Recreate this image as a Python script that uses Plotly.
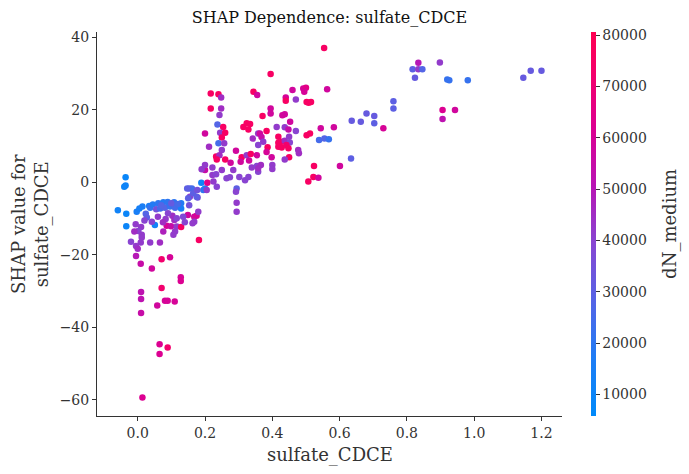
import plotly.graph_objects as go

# sulfate_CDCE feature value
x_vals = [
    -0.036, -0.040, -0.036, -0.059, -0.034, -0.034, -0.006, -0.003, 0.005, 0.014,
    0.024, 0.027, 0.034, 0.037, 0.045, 0.055, 0.061, 0.067, 0.076, 0.081,
    0.089, 0.096, 0.108, 0.111, 0.129, 0.129, 0.120, 0.100, 0.070, 0.051,
    0.010, 0.002, -0.010, 0.012, 0.012, -0.020, 0.009, 0.042, 0.037, 0.066,
    0.076, 0.086, 0.083, 0.103, 0.109, 0.099, 0.116, 0.116, 0.111, 0.106,
    0.129, 0.149, 0.155, 0.168, 0.175, 0.168, 0.163, 0.153, 0.161, 0.165,
    0.178, 0.182, 0.195, 0.200, 0.020, 0.060, 0.075, 0.090, 0.135, 0.140,
    0.009, 0.042, 0.071, 0.096, 0.128, -0.005, 0.000, -0.005, 0.128, 0.071,
    0.010, 0.010, 0.058, 0.081, 0.089, 0.110, 0.010, 0.065, 0.089, 0.065,
    0.014,
    0.217, 0.240, 0.248, 0.217, 0.248, 0.243, 0.344, 0.355, 0.237, 0.254,
    0.245, 0.260, 0.250, 0.240, 0.257, 0.200, 0.212, 0.250, 0.233, 0.243,
    0.235, 0.260, 0.276, 0.292, 0.309, 0.306, 0.324, 0.331, 0.336, 0.314,
    0.324, 0.334, 0.329, 0.342, 0.358, 0.200, 0.190, 0.222, 0.222, 0.233,
    0.250, 0.264, 0.274, 0.284, 0.302, 0.319, 0.329, 0.339, 0.354, 0.358,
    0.354, 0.294, 0.292, 0.294, 0.189, 0.200, 0.207, 0.225, 0.235, 0.147,
    0.150, 0.175, 0.153, 0.177, 0.205, 0.294, 0.507, 0.180,
    0.395, 0.460, 0.492, 0.500, 0.495, 0.502, 0.515, 0.508, 0.563, 0.470,
    0.440, 0.440, 0.395, 0.395, 0.371, 0.430, 0.437, 0.453, 0.413, 0.437,
    0.448, 0.470, 0.383, 0.363, 0.368, 0.373, 0.418, 0.418, 0.428, 0.437,
    0.450, 0.452, 0.418, 0.428, 0.442, 0.448, 0.358, 0.386, 0.383, 0.502,
    0.512, 0.544, 0.583, 0.539, 0.555, 0.568, 0.477, 0.479, 0.450, 0.437,
    0.398, 0.400, 0.400, 0.366, 0.358, 0.524, 0.522, 0.537,
    0.554, 0.834, 0.817, 0.834, 0.846, 0.824, 0.898, 0.760, 0.760, 0.680,
    0.703, 0.703, 0.636, 0.663, 0.730, 0.634, 0.601, 0.920, 0.926, 0.981,
    1.146, 1.168, 1.200, 0.906, 0.943, 0.906,
]

# SHAP value for sulfate_CDCE
shap_vals = [
    1.4, -1.2, -0.9, -7.7, -8.7, -12.1, -11.6, -8.1, -7.2, -6.7,
    -8.7, -9.7, -6.5, -7.0, -6.1, -7.4, -5.8, -7.2, -5.5, -7.0,
    -5.4, -6.7, -5.5, -7.0, -5.8, -7.2, -6.0, -5.8, -6.3, -11.8,
    -12.3, -13.4, -13.6, -14.5, -15.2, -16.4, -16.6, -10.9, -16.6, -16.6,
    -13.6, -12.0, -10.1, -9.2, -10.4, -12.1, -9.9, -12.2, -13.6, -14.5,
    -12.3, -9.0, -4.0, -9.5, -9.2, -10.9, -11.3, -1.7, -1.7, -3.0,
    -4.2, -15.9, -2.1, 3.4, -10.5, -9.5, -11.0, -8.5, -9.5, -11.0,
    -22.5, -23.8, -21.2, -20.7, -26.2, -17.6, -18.3, -20.3, -27.2, -29.2,
    -30.3, -32.2, -34.0, -32.7, -32.7, -32.9, -36.1, -44.7, -45.6, -47.4,
    -59.4,
    24.5, 24.3, 23.4, 20.4, 20.4, 18.6, 25.0, 24.1, 16.0, 15.3,
    13.7, 13.7, 12.4, 10.8, 10.8, 13.5, 9.8, 8.9, 7.1, 7.5,
    6.3, 6.3, 5.4, 8.7, 6.9, 5.7, 7.5, 6.0, 7.8, 15.3,
    16.3, 16.1, 14.6, 12.1, 13.5, 4.8, 3.6, 4.1, 2.0, 2.2,
    3.4, 1.1, 1.4, 3.4, 1.5, 0.6, 1.5, 4.1, 4.5, 2.9,
    7.5, -1.7, -2.6, -5.6, -0.1, -1.7, -0.1, 0.2, -1.2, -1.7,
    -4.4, -4.0, -6.3, -2.1, -2.1, -8.1, 0.2, -8.1,
    29.9, 25.5, 25.9, 26.1, 25.0, 22.2, 22.2, 22.0, 25.7, 22.9,
    23.4, 22.5, 20.4, 19.0, 18.3, 18.5, 18.8, 16.7, 15.3, 15.2,
    14.6, 14.2, 14.2, 13.5, 12.5, 11.2, 12.6, 10.9, 11.2, 11.5,
    12.6, 11.0, 9.8, 9.6, 10.3, 9.4, 10.3, 9.7, 8.4, 13.0,
    13.5, 14.9, 15.2, 11.7, 12.1, 11.9, 8.9, 8.0, 6.9, 6.3,
    6.9, 4.8, 3.7, 4.8, 3.9, 4.5, 1.5, 1.3,
    37.1, 33.0, 31.2, 31.2, 31.2, 28.9, 33.1, 22.4, 20.4, 19.0,
    18.3, 16.3, 17.0, 16.7, 14.9, 6.6, 4.5, 28.4, 28.2, 28.2,
    28.9, 30.8, 30.8, 20.0, 20.0, 17.5,
]

# interaction feature dN_medium (colour)
dn_medium = [
    9000, 10000, 11000, 12000, 10000, 10000, 42000, 15000, 14000, 16000,
    28000, 30000, 16000, 22000, 18000, 35000, 20000, 25000, 18000, 28000,
    20000, 22000, 20000, 25000, 18000, 15000, 25000, 32000, 28000, 12000,
    42000, 40000, 45000, 42000, 42000, 40000, 42000, 40000, 42000, 45000,
    48000, 60000, 42000, 45000, 45000, 55000, 40000, 42000, 42000, 42000,
    75000, 58000, 40000, 58000, 60000, 42000, 42000, 28000, 25000, 30000,
    35000, 75000, 20000, 55000, 40000, 42000, 45000, 40000, 38000, 40000,
    55000, 58000, 72000, 60000, 60000, 42000, 45000, 50000, 62000, 72000,
    52000, 52000, 58000, 60000, 60000, 60000, 55000, 62000, 72000, 62000,
    62000,
    75000, 75000, 45000, 75000, 45000, 42000, 75000, 58000, 28000, 75000,
    42000, 75000, 75000, 25000, 42000, 58000, 45000, 42000, 75000, 45000,
    75000, 75000, 58000, 58000, 75000, 58000, 42000, 58000, 75000, 75000,
    75000, 75000, 75000, 45000, 42000, 42000, 42000, 42000, 42000, 40000,
    42000, 40000, 40000, 42000, 40000, 40000, 40000, 42000, 40000, 40000,
    58000, 30000, 40000, 42000, 12000, 18000, 65000, 42000, 40000, 30000,
    30000, 30000, 35000, 35000, 42000, 42000, 75000, 42000,
    75000, 58000, 60000, 65000, 60000, 75000, 75000, 75000, 58000, 42000,
    60000, 75000, 58000, 58000, 75000, 58000, 58000, 58000, 42000, 42000,
    55000, 40000, 75000, 58000, 55000, 42000, 75000, 75000, 75000, 45000,
    42000, 40000, 75000, 75000, 72000, 75000, 40000, 75000, 60000, 75000,
    75000, 58000, 58000, 25000, 28000, 22000, 45000, 45000, 75000, 42000,
    58000, 42000, 42000, 45000, 45000, 75000, 75000, 58000,
    75000, 50000, 30000, 42000, 28000, 32000, 42000, 30000, 30000, 32000,
    32000, 30000, 32000, 32000, 60000, 30000, 58000, 22000, 22000, 22000,
    32000, 32000, 32000, 62000, 58000, 52000,
]

x_ticks = [0.0, 0.2, 0.4, 0.6, 0.8, 1.0, 1.2]
y_ticks = [-60, -40, -20, 0, 20, 40]
cbar_ticks = [10000, 20000, 30000, 40000, 50000, 60000, 70000, 80000]

red_blue = [
    [0.0, "rgb(0,138,250)"],
    [0.15, "rgb(30,125,245)"],
    [0.3, "rgb(85,100,230)"],
    [0.45, "rgb(135,70,210)"],
    [0.6, "rgb(185,20,180)"],
    [0.75, "rgb(220,0,145)"],
    [0.9, "rgb(245,0,105)"],
    [1.0, "rgb(255,0,82)"],
]

FONT = "DejaVu Serif"
TXT = "#333333"

fig = go.Figure()
fig.add_trace(go.Scatter(
    x=x_vals, y=shap_vals, mode="markers",
    marker=dict(
        size=6.5, color=dn_medium, colorscale=red_blue, cmin=5800, cmax=80600,
        line=dict(width=0),
        colorbar=dict(
            x=1.062, xanchor="left", xpad=0, y=0.5, yanchor="middle", ypad=0,
            len=1, lenmode="fraction", thickness=5, outlinewidth=0,
            ticks="outside", ticklen=4, tickcolor=TXT, tickwidth=1,
            tickvals=cbar_ticks, tickformat="d",
            tickfont=dict(family=FONT, size=14, color=TXT),
        ),
    ),
    hoverinfo="skip", showlegend=False,
))

fig.update_layout(
    width=689, height=474,
    margin=dict(l=97, r=127, t=32, b=58),
    paper_bgcolor="white", plot_bgcolor="white",
    font=dict(family=FONT, color=TXT),
    title=dict(text="SHAP Dependence: sulfate_CDCE", x=0.5, xref="paper",
               y=1 - 17 / 474, yanchor="middle", yref="container",
               font=dict(family=FONT, size=16, color="#111111")),
    xaxis=dict(range=[-0.121, 1.261], tickvals=x_ticks, tickformat=".1f",
               showgrid=False, zeroline=False, showline=True, linecolor=TXT,
               linewidth=1, ticks="outside", ticklen=4, tickcolor=TXT,
               tickfont=dict(family=FONT, size=14, color=TXT)),
    yaxis=dict(range=[-64.5, 41.5], tickvals=y_ticks,
               showgrid=False, zeroline=False, showline=True, linecolor=TXT,
               linewidth=1, ticks="outside", ticklen=4, tickcolor=TXT,
               tickfont=dict(family=FONT, size=14, color=TXT)),
    annotations=[
        dict(text="sulfate_CDCE", xref="paper", yref="paper", x=0.5, y=-0.1016,
             xanchor="center", yanchor="middle", showarrow=False,
             font=dict(family=FONT, size=18, color=TXT)),
        dict(text="SHAP value for<br>sulfate_CDCE", xref="paper", yref="paper",
             x=-0.144, y=0.5, xanchor="center", yanchor="middle", textangle=-90,
             showarrow=False, font=dict(family=FONT, size=18, color=TXT)),
        dict(text="dN_medium", xref="paper", yref="paper", x=1.232, y=0.5,
             xanchor="center", yanchor="middle", textangle=-90, showarrow=False,
             font=dict(family=FONT, size=18, color=TXT)),
    ],
)

fig.write_html("out.html")
